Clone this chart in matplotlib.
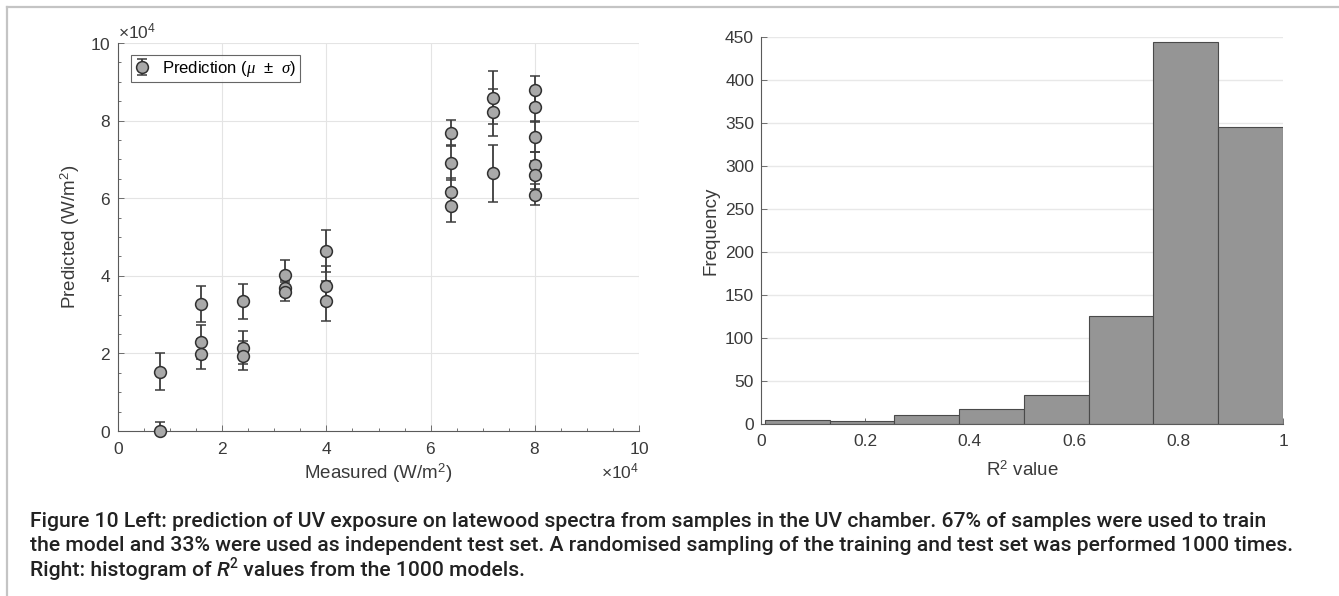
import matplotlib
matplotlib.use('Agg')
import matplotlib.pyplot as plt
from matplotlib.ticker import MultipleLocator, FormatStrFormatter, ScalarFormatter
from matplotlib.lines import Line2D

plt.rcParams['font.family'] = ['Liberation Sans', 'DejaVu Sans']
plt.rcParams['mathtext.fontset'] = 'custom'
plt.rcParams['mathtext.rm'] = 'Liberation Sans'
plt.rcParams['mathtext.it'] = 'Liberation Serif:italic'

# Left panel: measured vs predicted UV exposure (W/m^2)
measured = [8000, 8000,
            16000, 16000, 16000,
            24000, 24000, 24000,
            32000, 32000, 32000,
            40000, 40000, 40000,
            64000, 64000, 64000, 64000,
            72000, 72000, 72000,
            80000, 80000, 80000, 80000, 80000, 80000]
pred_mean = [15300, 0,
             32800, 23000, 19900,
             33400, 21500, 19400,
             40300, 36800, 35900,
             46400, 37500, 33500,
             76900, 69100, 61600, 58100,
             85900, 82100, 66400,
             87900, 83600, 75800, 68500, 66000, 60900]
pred_std = [4800, 2300,
            4700, 4400, 3900,
            4600, 4300, 3700,
            3800, 2000, 2400,
            5300, 5000, 5100,
            3300, 4400, 3500, 4200,
            6800, 6000, 7300,
            3600, 4000, 4000, 3500, 3500, 2700]

# Right panel: histogram of R^2 over 1000 models
bin_edges = [0.0076, 0.1317, 0.2557, 0.3798, 0.5038, 0.6279, 0.7519, 0.8760, 1.0]
bin_counts = [5, 4, 11, 18, 34, 126, 444, 345]

caption = ["Figure 10 Left: prediction of UV exposure on latewood spectra from samples in the UV chamber. "
           "67% of samples were used to train",
           "the model and 33% were used as independent test set. A randomised sampling of the training "
           "and test set was performed 1000 times."]

W, H = 1339, 596
fig = plt.figure(figsize=(W / 100, H / 100), dpi=100)
axis_col = '#5a5a5a'
text_col = '#3a3a3a'
tick_fs = 12.5
label_fs = 13.5


def style_axes(ax):
    for s in ['top', 'right']:
        ax.spines[s].set_visible(False)
    for s in ['left', 'bottom']:
        ax.spines[s].set_color(axis_col)
        ax.spines[s].set_linewidth(0.8)
    ax.tick_params(which='both', direction='in', colors=axis_col, labelcolor=text_col,
                   labelsize=tick_fs, width=0.6)
    ax.tick_params(which='major', length=4)
    ax.tick_params(which='minor', length=2.5)
    ax.tick_params(axis='x', which='both', pad=7.5)
    ax.tick_params(axis='y', which='both', pad=5)
    ax.set_axisbelow(True)


# ---- left: scatter with error bars ----
ax1 = fig.add_axes([118 / W, 1 - 431 / H, (639 - 118) / W, (431 - 43) / H])
style_axes(ax1)
eb = ax1.errorbar(measured, pred_mean, yerr=pred_std, fmt='o', ms=8.5, mfc='#a9a9a9', mec='#303030',
                  mew=1.1, ecolor='#3c3c3c', elinewidth=1.3, capsize=3.5, capthick=0.9,
                  label=r'Prediction ($\mu$ $\,\pm\,$ $\sigma$)', zorder=3)
eb[0].set_clip_on(False)
ax1.set_xlim(0, 100000)
ax1.set_ylim(0, 100000)
ax1.xaxis.set_major_locator(MultipleLocator(20000))
ax1.yaxis.set_major_locator(MultipleLocator(20000))
ax1.xaxis.set_minor_locator(MultipleLocator(5000))
ax1.yaxis.set_minor_locator(MultipleLocator(5000))
for axis in [ax1.xaxis, ax1.yaxis]:
    fmt = ScalarFormatter(useMathText=True)
    fmt.set_powerlimits((4, 4))
    axis.set_major_formatter(fmt)
    axis.get_offset_text().set_fontsize(tick_fs)
    axis.get_offset_text().set_color(text_col)
ax1.grid(True, which='major', color='#e4e4e4', lw=0.8)
ax1.set_xlabel('Measured (W/m$^2$)', fontsize=label_fs, color=text_col, labelpad=3)
ax1.set_ylabel('Predicted (W/m$^2$)', fontsize=label_fs, color=text_col, labelpad=6)
leg = ax1.legend(loc='upper left', fontsize=12, frameon=True, fancybox=False,
                 edgecolor='#404040', borderaxespad=0.75, handletextpad=0.7,
                 handlelength=1.0, borderpad=0.2, bbox_to_anchor=(0.0, 1.0))
leg.get_frame().set_linewidth(0.8)

# ---- right: histogram ----
ax2 = fig.add_axes([761 / W, 1 - 424 / H, (1283 - 761) / W, (424 - 36.7) / H])
style_axes(ax2)
widths = [bin_edges[i + 1] - bin_edges[i] for i in range(len(bin_counts))]
ax2.bar(bin_edges[:-1], bin_counts, width=widths, align='edge', color='#959595',
        edgecolor='#4a4a4a', linewidth=0.8, zorder=2)
ax2.set_xlim(0, 1)
ax2.set_ylim(0, 450)
ax2.xaxis.set_major_locator(MultipleLocator(0.2))
ax2.yaxis.set_major_locator(MultipleLocator(50))
ax2.xaxis.set_major_formatter(FormatStrFormatter('%g'))
ax2.grid(True, axis='y', color='#e8e8e8', lw=1.0)
ax2.set_xlabel('R$^2$ value', fontsize=label_fs, color=text_col, labelpad=8)
ax2.set_ylabel('Frequency', fontsize=label_fs, color=text_col, labelpad=4)

# ---- frame lines ----
fig.add_artist(Line2D([7 / W, 1], [1 - 7 / H, 1 - 7 / H], color='#c4c4c4', lw=1.6))
fig.add_artist(Line2D([7 / W, 7 / W], [0, 1 - 7 / H], color='#c4c4c4', lw=1.6))

# ---- caption ----
cap_kw = dict(fontsize=15.2, color='#222222', family=['Roboto', 'DejaVu Sans'], weight='medium')
base = [527, 551, 576]
for line, yb in zip(caption, base):
    fig.text(30 / W, 1 - yb / H, line, ha='left', va='baseline', **cap_kw)

renderer = fig.canvas.get_renderer()
t1 = fig.text(30 / W, 1 - base[2] / H, 'Right: histogram of ', ha='left', va='baseline', **cap_kw)
x = t1.get_window_extent(renderer).x1
it_kw = dict(cap_kw)
it_kw['style'] = 'italic'
t2 = fig.text(x / W, 1 - base[2] / H, 'R', ha='left', va='baseline', **it_kw)
x = t2.get_window_extent(renderer).x1
sup_kw = dict(cap_kw)
sup_kw['fontsize'] = 10
t3 = fig.text(x / W, 1 - (base[2] - 8) / H, '2', ha='left', va='baseline', **sup_kw)
x = t3.get_window_extent(renderer).x1
fig.text(x / W, 1 - base[2] / H, ' values from the 1000 models.', ha='left', va='baseline', **cap_kw)

fig.savefig('out.png', dpi=100)
